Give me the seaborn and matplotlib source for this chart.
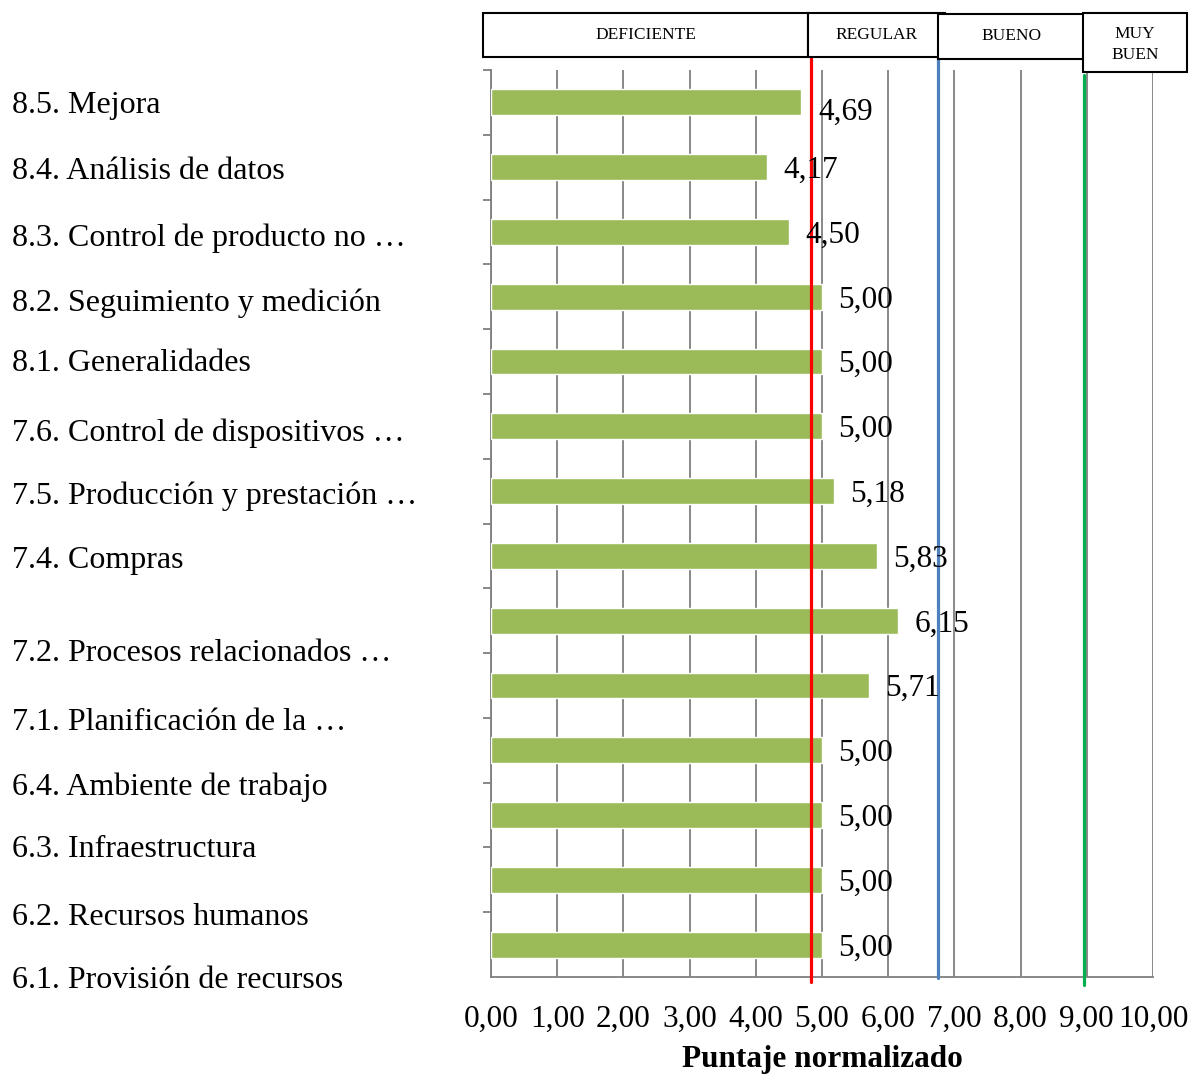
import matplotlib
matplotlib.use("Agg")
import matplotlib.pyplot as plt
from matplotlib.patches import Rectangle
from matplotlib.ticker import FixedLocator
import numpy as np
import pandas as pd
import seaborn as sns

# Normalized scores per clause (top to bottom)
puntajes = [4.69, 4.17, 4.50, 5.00, 5.00, 5.00, 5.18, 5.83, 6.15, 5.71, 5.00, 5.00, 5.00, 5.00]
bar_ids = [f"b{i}" for i in range(len(puntajes))]

# Clause labels and their vertical position in category units
etiquetas = [
    "8.5. Mejora",
    "8.4. Análisis de datos",
    "8.3. Control de producto no …",
    "8.2. Seguimiento y medición",
    "8.1. Generalidades",
    "7.6. Control de dispositivos …",
    "7.5. Producción y prestación …",
    "7.4. Compras",
    "7.2. Procesos relacionados …",
    "7.1. Planificación de la …",
    "6.4. Ambiente de trabajo",
    "6.3. Infraestructura",
    "6.2. Recursos humanos",
    "6.1. Provisión de recursos",
]
pos_etiquetas = [0.0, 1.02, 2.05, 3.04, 3.98, 5.05, 6.03, 7.02, 8.46, 9.51, 10.51, 11.48, 12.53, 13.5]

# Rating bands and their thresholds
bandas = ["DEFICIENTE", "REGULAR", "BUENO", "MUY\nBUEN"]
umbrales = [4.83, 6.75, 8.96]
colores_umbral = ["#ff0000", "#4f81bd", "#00b050"]

ticks_x = np.arange(0, 11, 1)
tick_labels_x = [f"{v:.2f}".replace(".", ",") for v in ticks_x]

sns.set_style("white")
plt.rcParams["font.family"] = ["Liberation Serif", "DejaVu Serif"]
plt.rcParams["text.color"] = "black"
plt.rcParams["axes.labelcolor"] = "black"
plt.rcParams["xtick.labelcolor"] = "black"
plt.rcParams["ytick.labelcolor"] = "black"

W, H = 1192, 1075
fig = plt.figure(figsize=(W / 100, H / 100), dpi=100)
ax = fig.add_axes([491 / W, 1 - 977 / H, (1153 - 491) / W, (977 - 70) / H])

df = pd.DataFrame({"id": bar_ids, "puntaje": puntajes})
sns.barplot(data=df, x="puntaje", y="id", orient="h", color="#9bbb59",
            width=0.4, saturation=1, ax=ax, zorder=3)

ax.set_xlim(0, 10)
ax.set_ylim(13.5, -0.5)

# vertical gridlines
for v in ticks_x:
    ax.axvline(v, color="#7f7f7f", lw=1.3, zorder=1)

# threshold lines
ext = [(1.013, -0.0055), (1.013, -0.001), (0.9945, -0.0088)]
for u, c, (ymax, ymin) in zip(umbrales, colores_umbral, ext):
    ax.axvline(u, ymin=ymin, ymax=ymax, color=c, lw=2.3, zorder=5, clip_on=False)

# value labels
for i, v in enumerate(puntajes):
    dy = 0.15 if i == 0 else 0.05
    ax.text(v + 0.25, i + dy, f"{v:.2f}".replace(".", ","), va="center", ha="left",
            fontsize=22.5, color="black", zorder=6)

# x axis
ax.set_xticks(ticks_x)
ax.set_xticklabels(tick_labels_x, fontsize=22.5)
ax.tick_params(axis="x", direction="out", length=6, width=1.3, color="#7f7f7f", pad=14)
ax.set_xlabel("Puntaje normalizado", fontsize=22.5, fontweight="bold", labelpad=8)

# y axis: boundaries as minor ticks, labels as major ticks
ax.yaxis.set_major_locator(FixedLocator(pos_etiquetas))
ax.set_yticklabels(etiquetas, fontsize=23)
ax.yaxis.set_minor_locator(FixedLocator(np.arange(-0.5, 14, 1)))
ax.tick_params(axis="y", which="major", length=0, pad=479 * 0.72)
ax.tick_params(axis="y", which="minor", direction="out", length=6, width=1.3, color="#7f7f7f", left=True)
for lab in ax.get_yticklabels():
    lab.set_ha("left")
ax.set_ylabel("")

for s in ["top", "right"]:
    ax.spines[s].set_visible(False)
for s in ["left", "bottom"]:
    ax.spines[s].set_color("#7f7f7f")
    ax.spines[s].set_linewidth(1.3)

# rating band header boxes (pixel coordinates)
cajas = [(483, 13, 808, 57), (808, 13, 945, 57), (938, 14, 1086, 59), (1083, 13, 1187, 72)]
for nombre, (x0, y0, x1, y1) in zip(bandas, cajas):
    rect = Rectangle((x0 / W, 1 - y1 / H), (x1 - x0) / W, (y1 - y0) / H,
                     transform=fig.transFigure, facecolor="white", edgecolor="black", lw=1.5, zorder=10)
    fig.add_artist(rect)
    cx = (x0 + x1) / 2 / W
    if "\n" in nombre:
        t = fig.text(cx, 1 - 26 / H, nombre, ha="center", va="top", fontsize=12.5,
                     linespacing=1.45, zorder=11)
        clip = Rectangle((x0 / W, 1 - (y1 - 10) / H), (x1 - x0) / W, (y1 - y0 - 10) / H,
                         transform=fig.transFigure)
        t.set_clip_path(clip)
    else:
        fig.text(cx, 1 - (y0 + y1) / 2 / H, nombre, ha="center", va="center", fontsize=12.5, zorder=11)

fig.savefig("out.png", dpi=100, facecolor="white")
